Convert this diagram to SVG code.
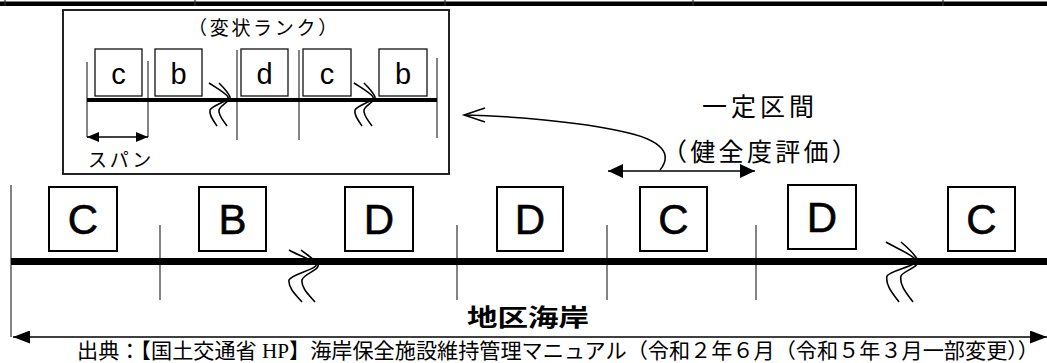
<svg xmlns="http://www.w3.org/2000/svg" width="1047" height="363" viewBox="0 0 1047 363">
<defs>
<style>
.bg{fill:#fff}
.box{fill:#fff;stroke:#000;stroke-width:2}
.sbox{fill:#fff;stroke:#111;stroke-width:1.3}
.thin{stroke:#333;stroke-width:1.2;fill:none}
.brk{stroke:#000;stroke-width:1.6;fill:none}
.ln{stroke:#000;fill:none}
.big{font-family:"Liberation Sans",Arial,sans-serif;font-size:42px;fill:#000;stroke:#000;stroke-width:0.6;text-anchor:middle}
.sm{font-family:"Liberation Sans",Arial,sans-serif;font-size:29px;fill:#000;text-anchor:middle}
.jp{font-family:"Noto Sans CJK JP","Noto Sans CJK SC",sans-serif;fill:#000}
.src{font-family:"Liberation Serif","Noto Sans CJK JP",serif;font-size:21px;fill:#000}
</style>
<marker id="ahBig" markerUnits="userSpaceOnUse" markerWidth="17" markerHeight="13" refX="17" refY="6.5" orient="auto-start-reverse"><path d="M0,0 L17,6.5 L0,13 Z" fill="#000"/></marker>
<marker id="ahMid" markerUnits="userSpaceOnUse" markerWidth="15" markerHeight="14" refX="15" refY="7" orient="auto-start-reverse"><path d="M0,0 L15,7 L0,14 Z" fill="#000"/></marker>
<marker id="ahSm" markerUnits="userSpaceOnUse" markerWidth="12" markerHeight="10" refX="12" refY="5" orient="auto-start-reverse"><path d="M0,0 L12,5 L0,10 Z" fill="#000"/></marker>
</defs>
<rect class="bg" x="0" y="0" width="1047" height="363"/>
<g id="top-edge">
<rect x="0" y="1.5" width="1047" height="4.5" fill="#000"/>
<path class="thin" d="M5,0 V6 M195,0 V6 M445,0 V6 M693,0 V6 M943,0 V6"/>
</g>
<g id="inset">
<rect x="63" y="10" width="386" height="164" fill="none" stroke="#222" stroke-width="2"/>
<text class="jp" x="188" y="35" font-size="19" letter-spacing="2.7">（変状ランク）</text>
<path class="thin" d="M87,62 V137 M148,61 V137 M237,50 V140 M299,50 V140 M437,58 V138"/>
<line class="ln" x1="87" y1="100" x2="437" y2="100" stroke-width="4"/>
<g id="inset-c1"><rect class="sbox" x="95" y="49" width="47" height="47"/><text class="sm" x="118.5" y="83.5">c</text></g>
<g id="inset-b1"><rect class="sbox" x="155" y="49" width="47" height="47"/><text class="sm" x="178.5" y="83.5">b</text></g>
<g id="inset-d1"><rect class="sbox" x="241" y="49" width="47" height="47"/><text class="sm" x="264.5" y="83.5">d</text></g>
<g id="inset-c2"><rect class="sbox" x="303" y="49" width="48" height="47"/><text class="sm" x="327" y="83.5">c</text></g>
<g id="inset-b2"><rect class="sbox" x="379" y="49" width="48" height="47"/><text class="sm" x="403" y="83.5">b</text></g>
<path class="brk" d="M209,83 C215,87 226,93 228,97 C230,101 212,105 210,110 C209,115 213,120 217,126 M219,83 C223,87 228,92 230,97 C231,101 220,105 219,110 C218,115 223,120 227,126"/>
<path class="brk" d="M354,83 C360,87 371,93 373,97 C375,101 357,105 355,110 C354,115 358,120 362,126 M364,83 C368,87 373,92 375,97 C376,101 365,105 364,110 C363,115 368,120 372,126"/>
<line class="ln" x1="87" y1="137" x2="148" y2="137" stroke-width="1.3" marker-start="url(#ahSm)" marker-end="url(#ahSm)"/>
<text class="jp" x="88" y="167" font-size="19" letter-spacing="2.7">スパン</text>
</g>
<g id="labels">
<text class="jp" x="702" y="116" font-size="25" letter-spacing="4">一定区間</text>
<text class="jp" x="662" y="161" font-size="25" letter-spacing="3.3">（健全度評価）</text>
<text class="jp" x="467" y="326" font-size="24" font-weight="bold" textLength="122" lengthAdjust="spacingAndGlyphs">地区海岸</text>
<text class="src" x="77" y="358" textLength="962" lengthAdjust="spacingAndGlyphs">出典：【国土交通省 HP】海岸保全施設維持管理マニュアル（令和２年６月（令和５年３月一部変更））</text>
</g>
<g id="main-line">
<path class="thin" d="M11,185 V337 M160,225 V300 M457,225 V300 M607,225 V300 M756,225 V300"/>
<line class="ln" x1="11" y1="261.5" x2="1047" y2="261.5" stroke-width="7"/>
<path class="brk" d="M289,250 C297,255 313,260 316,264 C319,269 291,274 289,280 C288,288 296,295 302,302 M301,250 C307,255 316,260 318,265 C320,270 303,274 302,280 C301,288 309,295 315,302"/>
<path class="brk" d="M886,242 C896,248 913,255 916,260 C919,266 890,270 887,276 C885,285 893,294 899,302 M901,242 C908,248 916,255 918,261 C920,267 903,271 901,276 C899,285 907,294 913,302"/>
</g>
<g id="node-C1"><rect class="box" x="49" y="187" width="68" height="64"/><text class="big" x="83" y="234">C</text></g>
<g id="node-B"><rect class="box" x="199" y="187" width="67" height="64"/><text class="big" x="232.5" y="234">B</text></g>
<g id="node-D1"><rect class="box" x="345" y="187" width="68" height="64"/><text class="big" x="379" y="234">D</text></g>
<g id="node-D2"><rect class="box" x="497" y="187" width="66" height="64"/><text class="big" x="530" y="234">D</text></g>
<g id="node-C2"><rect class="box" x="640" y="187" width="67" height="64"/><text class="big" x="673.5" y="234">C</text></g>
<g id="node-D3"><rect class="box" x="788" y="185" width="68" height="64"/><text class="big" x="822" y="232">D</text></g>
<g id="node-C3"><rect class="box" x="948" y="187" width="67" height="64"/><text class="big" x="981.5" y="234">C</text></g>
<g id="connectors">
<line class="ln" x1="608" y1="171" x2="755" y2="171" stroke-width="1.6" marker-start="url(#ahMid)" marker-end="url(#ahMid)"/>
<path class="ln" stroke-width="1.5" d="M660,170 C672,155 665,140 620,131 C580,122 510,116 465,115"/>
<path class="ln" stroke-width="1.5" d="M485,108 L464,115 L485,122"/>
<line class="ln" x1="13" y1="337" x2="1047" y2="337" stroke-width="1.5" marker-start="url(#ahBig)" marker-end="url(#ahBig)"/>
</g>
</svg>
